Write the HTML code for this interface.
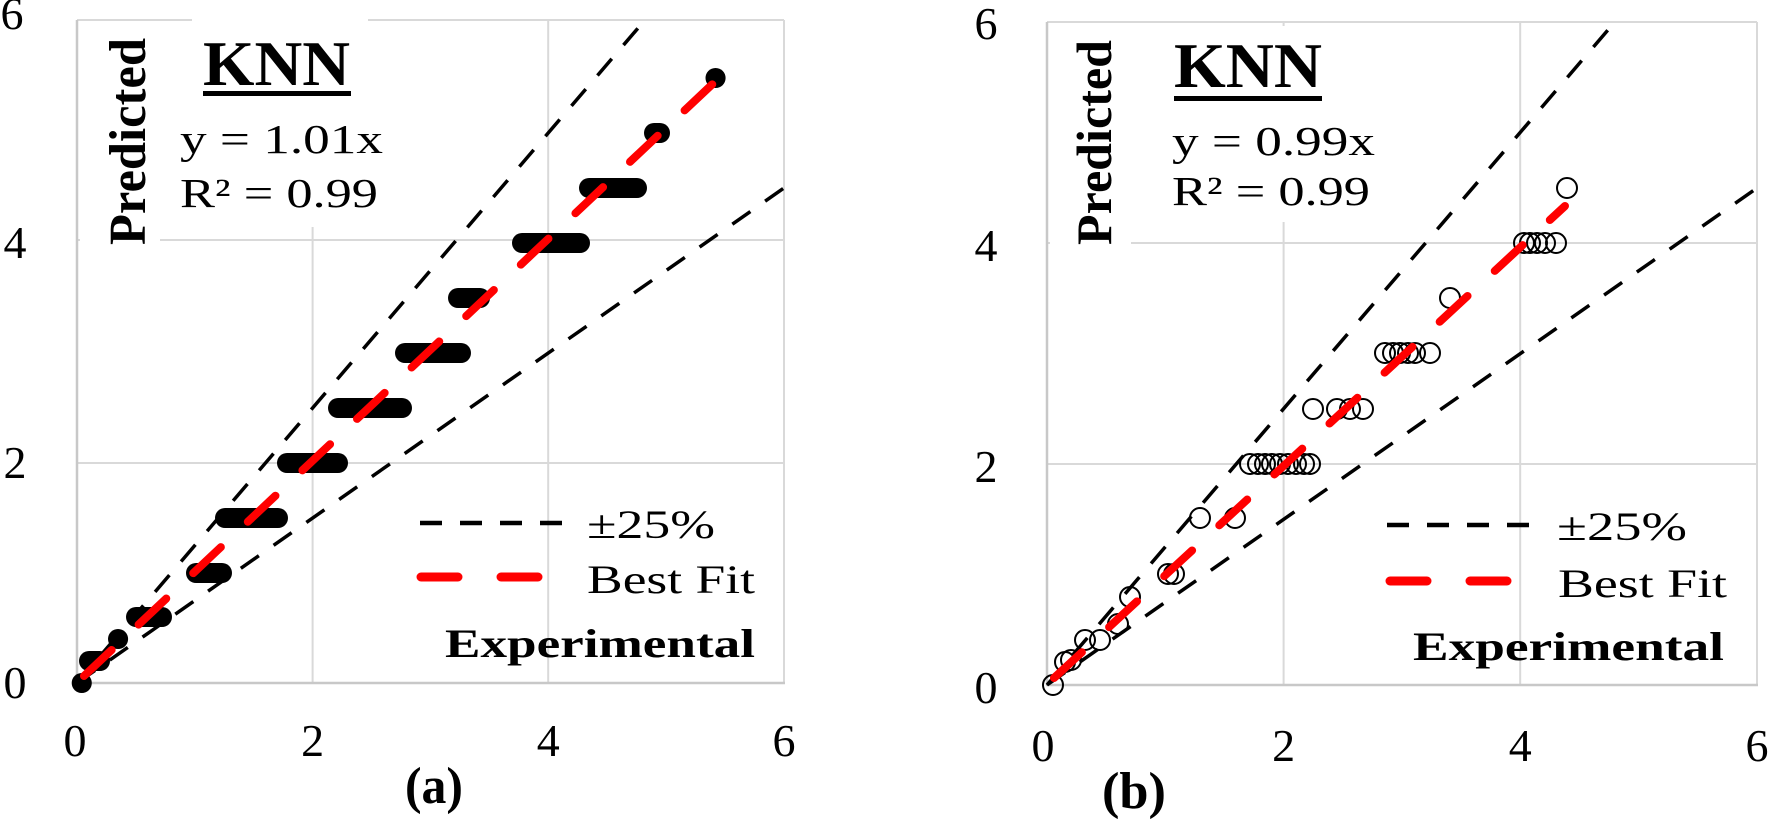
<!DOCTYPE html>
<html><head><meta charset="utf-8"><style>
html,body{margin:0;padding:0;background:#fff;}
svg{display:block;font-family:"Liberation Serif",serif;}
</style></head><body>
<svg width="1769" height="822" viewBox="0 0 1769 822" xmlns="http://www.w3.org/2000/svg">
<rect width="1769" height="822" fill="#fff"/>
<!-- Panel A -->
<g stroke="#d9d9d9" stroke-width="2" fill="none">
 <line x1="312.6" y1="20" x2="312.6" y2="683"/>
 <line x1="548.2" y1="20" x2="548.2" y2="683"/>
 <line x1="77" y1="463" x2="784" y2="463"/>
 <line x1="77" y1="240" x2="784" y2="240"/>
 <line x1="77" y1="20" x2="784" y2="20"/>
 <line x1="784" y1="20" x2="784" y2="683"/>
</g>
<rect x="80" y="25" width="80" height="222" fill="#fff"/>
<rect x="192" y="8" width="176" height="219" fill="#fff"/>
<g stroke="#c8c8c8" stroke-width="2.5"><line x1="77" y1="20" x2="77" y2="684"/><line x1="76" y1="683" x2="785" y2="683"/></g>
<g stroke="#000" stroke-width="20" stroke-linecap="round">
 <line x1="81.7" y1="683" x2="81.8" y2="683"/>
 <line x1="89" y1="661" x2="100" y2="661"/>
 <line x1="118" y1="639" x2="118.1" y2="639"/>
 <line x1="136" y1="617" x2="162" y2="617"/>
 <line x1="196" y1="573" x2="222" y2="573"/>
 <line x1="225" y1="518" x2="278" y2="518"/>
 <line x1="287" y1="463" x2="338" y2="463"/>
 <line x1="338" y1="408" x2="402" y2="408"/>
 <line x1="405" y1="353" x2="461" y2="353"/>
 <line x1="458" y1="298" x2="480" y2="298"/>
 <line x1="522" y1="243" x2="580" y2="243"/>
 <line x1="589" y1="188" x2="637" y2="188"/>
 <line x1="654" y1="133" x2="660" y2="133"/>
 <line x1="715.5" y1="78" x2="715.6" y2="78"/>
</g>
<g stroke="#000" stroke-width="3.5" stroke-dasharray="22 18" fill="none">
 <line x1="77" y1="683" x2="642.4" y2="23"/>
 <line x1="77" y1="683" x2="784" y2="188"/>
</g>
<line x1="84" y1="676" x2="719" y2="78" stroke="#ff0000" stroke-width="8" stroke-linecap="round" stroke-dasharray="38 37"/>
<g font-size="46" text-anchor="middle" fill="#000">
 <text x="15" y="698">0</text><text x="15" y="478">2</text><text x="15" y="258">4</text><text x="12" y="29">6</text>
 <text x="75" y="756">0</text><text x="312.6" y="756">2</text><text x="548.2" y="756">4</text><text x="784" y="756">6</text>
</g>
<text x="405" y="803" font-size="52" font-weight="bold" textLength="58" lengthAdjust="spacingAndGlyphs">(a)</text>
<text transform="translate(145,245) rotate(-90)" font-size="52" font-weight="bold" textLength="207" lengthAdjust="spacingAndGlyphs">Predicted</text>
<text x="203" y="85" font-size="64" font-weight="bold" textLength="147" lengthAdjust="spacingAndGlyphs">KNN</text>
<rect x="203" y="91" width="148" height="5" fill="#000"/>
<text x="180" y="153" font-size="41" textLength="203" lengthAdjust="spacingAndGlyphs">y = 1.01x</text>
<text x="180" y="207" font-size="41" textLength="198" lengthAdjust="spacingAndGlyphs">R² = 0.99</text>
<line x1="420" y1="523" x2="562" y2="523" stroke="#000" stroke-width="4.5" stroke-dasharray="22 18"/>
<line x1="421" y1="577" x2="542" y2="577" stroke="#ff0000" stroke-width="9" stroke-linecap="round" stroke-dasharray="37 43"/>
<text x="587" y="538" font-size="40" textLength="128" lengthAdjust="spacingAndGlyphs">±25%</text>
<text x="587" y="593" font-size="40" textLength="168" lengthAdjust="spacingAndGlyphs">Best Fit</text>
<text x="445" y="657" font-size="40" font-weight="bold" textLength="310" lengthAdjust="spacingAndGlyphs">Experimental</text>

<!-- Panel B -->
<g stroke="#d9d9d9" stroke-width="2" fill="none">
 <line x1="1283.6" y1="22" x2="1283.6" y2="685"/>
 <line x1="1520.2" y1="22" x2="1520.2" y2="685"/>
 <line x1="1047" y1="464" x2="1757" y2="464"/>
 <line x1="1047" y1="243" x2="1757" y2="243"/>
 <line x1="1047" y1="22" x2="1757" y2="22"/>
 <line x1="1757" y1="22" x2="1757" y2="685"/>
</g>
<rect x="1050" y="26" width="81" height="222" fill="#fff"/>
<rect x="1160" y="26" width="225" height="196" fill="#fff"/>
<g stroke="#c8c8c8" stroke-width="2.5"><line x1="1047" y1="22" x2="1047" y2="686"/><line x1="1046" y1="685" x2="1758" y2="685"/></g>
<g stroke="#000" stroke-width="2" fill="none">
 <circle cx="1053" cy="685" r="10"/>
 <circle cx="1065" cy="662" r="10"/><circle cx="1071" cy="660" r="10"/>
 <circle cx="1085" cy="640" r="10"/><circle cx="1100" cy="640" r="10"/>
 <circle cx="1118" cy="624" r="10"/>
 <circle cx="1130" cy="597" r="10"/>
 <circle cx="1168" cy="574" r="10"/><circle cx="1174" cy="574" r="10"/>
 <circle cx="1200" cy="518" r="10"/><circle cx="1235" cy="518" r="10"/>
 <circle cx="1250" cy="464" r="10"/><circle cx="1258" cy="464" r="10"/><circle cx="1265" cy="464" r="10"/><circle cx="1272" cy="464" r="10"/><circle cx="1280" cy="464" r="10"/><circle cx="1288" cy="464" r="10"/><circle cx="1296" cy="464" r="10"/><circle cx="1304" cy="464" r="10"/><circle cx="1310" cy="464" r="10"/>
 <circle cx="1313" cy="409" r="10"/><circle cx="1337" cy="409" r="10"/><circle cx="1350" cy="409" r="10"/><circle cx="1363" cy="409" r="10"/>
 <circle cx="1385" cy="353" r="10"/><circle cx="1393" cy="353" r="10"/><circle cx="1400" cy="353" r="10"/><circle cx="1408" cy="353" r="10"/><circle cx="1415" cy="353" r="10"/><circle cx="1430" cy="353" r="10"/>
 <circle cx="1450" cy="298" r="10"/>
 <circle cx="1524" cy="243" r="10"/><circle cx="1530" cy="243" r="10"/><circle cx="1537" cy="243" r="10"/><circle cx="1545" cy="243" r="10"/><circle cx="1556" cy="243" r="10"/>
 <circle cx="1567" cy="188" r="10"/>
</g>
<g stroke="#000" stroke-width="3.5" stroke-dasharray="22 18" fill="none">
 <line x1="1047" y1="685" x2="1614.8" y2="22"/>
 <line x1="1047" y1="685" x2="1757" y2="188"/>
</g>
<line x1="1054" y1="678" x2="1565" y2="206" stroke="#ff0000" stroke-width="8" stroke-linecap="round" stroke-dasharray="38 37"/>
<g font-size="46" text-anchor="middle" fill="#000">
 <text x="986" y="703" >0</text><text x="986" y="482">2</text><text x="986" y="261">4</text><text x="986" y="39">6</text>
 <text x="1043" y="761">0</text><text x="1283.6" y="761">2</text><text x="1520.2" y="761">4</text><text x="1757" y="761">6</text>
</g>
<text x="1102" y="808" font-size="52" font-weight="bold" textLength="64" lengthAdjust="spacingAndGlyphs">(b)</text>
<text transform="translate(1111,245) rotate(-90)" font-size="50" font-weight="bold" textLength="205" lengthAdjust="spacingAndGlyphs">Predicted</text>
<text x="1174" y="87" font-size="64" font-weight="bold" textLength="148" lengthAdjust="spacingAndGlyphs">KNN</text>
<rect x="1174" y="96" width="148" height="5" fill="#000"/>
<text x="1172" y="155" font-size="41" textLength="203" lengthAdjust="spacingAndGlyphs">y = 0.99x</text>
<text x="1172" y="205" font-size="41" textLength="198" lengthAdjust="spacingAndGlyphs">R² = 0.99</text>
<line x1="1387" y1="525" x2="1530" y2="525" stroke="#000" stroke-width="4.5" stroke-dasharray="22 18"/>
<line x1="1390" y1="581" x2="1510" y2="581" stroke="#ff0000" stroke-width="9" stroke-linecap="round" stroke-dasharray="37 43"/>
<text x="1557" y="540" font-size="40" textLength="130" lengthAdjust="spacingAndGlyphs">±25%</text>
<text x="1558" y="597" font-size="40" textLength="169" lengthAdjust="spacingAndGlyphs">Best Fit</text>
<text x="1413" y="660" font-size="40" font-weight="bold" textLength="311" lengthAdjust="spacingAndGlyphs">Experimental</text>
</svg>
</body></html>
